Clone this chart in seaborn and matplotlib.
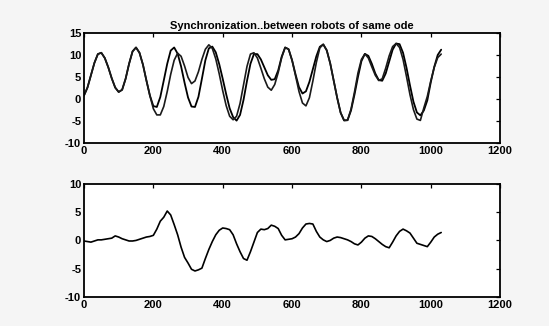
import numpy as np
import pandas as pd
import matplotlib
matplotlib.use("Agg")
import matplotlib.pyplot as plt
import seaborn as sns

# ---- data ----
x_top = list(range(0, 1040, 10))
robot_a = [0.8, 2.6, 5.4, 8.2, 10.2, 10.5, 9.3, 7.2, 4.7, 2.6,
           1.6, 2.1, 4.6, 8.0, 10.8, 11.7, 10.5, 7.8, 4.2, 0.8,
           -1.6, -1.8, 0.45, 4.2, 8.0, 11.0, 11.7, 10.3, 7.4, 3.7,
           0.35, -1.7, -1.8, 0.5, 4.6, 8.8, 11.5, 11.9, 10.6, 7.9,
           4.6, 1.1, -2.1, -4.1, -4.9, -3.6, -0.2, 4.1, 8.0, 10.2,
           10.2, 9.0, 7.2, 5.4, 4.35, 4.5, 6.5, 9.6, 11.7, 11.3,
           8.8, 5.6, 2.7, 1.25, 1.75, 3.9, 6.8, 9.7, 11.85, 12.4,
           11.05, 8.1, 4.2, 0.3, -3.1, -4.85, -4.8, -2.6, 1.0, 5.0,
           8.6, 10.25, 9.8, 8.0, 5.8, 4.3, 4.15, 5.8, 8.5, 11.2,
           12.6, 12.45, 10.5, 7.1, 3.1, -0.6, -3.05, -3.7, -2.6, -0.3,
           3.8, 7.3, 10.0, 11.2]
robot_b = [0.8, 2.6, 5.4, 8.2, 10.2, 10.5, 9.3, 7.2, 4.7, 2.6,
           1.6, 2.1, 4.6, 8.0, 10.8, 11.7, 10.5, 7.8, 4.2, 0.8,
           -2.2, -3.6, -3.6, -1.7, 1.7, 5.6, 8.8, 10.4, 9.7, 7.5,
           4.9, 3.5, 4.1, 6.2, 9.0, 11.3, 12.3, 11.5, 9.1, 5.7,
           1.9, -1.5, -3.9, -4.7, -3.9, -1.0, 3.2, 7.4, 10.2, 10.5,
           9.3, 7.0, 4.6, 2.7, 2.0, 3.3, 6.0, 9.4, 11.7, 11.3,
           8.8, 5.3, 1.7, -0.9, -1.55, 0.3, 4.1, 8.3, 11.6, 12.4,
           11.05, 8.1, 4.2, 0.3, -3.1, -4.85, -4.8, -2.3, 1.6, 5.9,
           9.0, 10.25, 9.3, 7.3, 5.4, 4.2, 4.6, 7.0, 9.8, 11.9,
           12.6, 11.7, 9.0, 5.1, 1.0, -2.4, -4.55, -4.85, -2.0, 0.6,
           4.1, 7.2, 9.4, 10.2]
diff = [-0.1, -0.2, -0.3, -0.1, 0.1, 0.1, 0.2, 0.3, 0.4, 0.8,
        0.6, 0.3, 0.1, -0.1, -0.1, 0.0, 0.2, 0.4, 0.6, 0.7,
        0.9, 2.0, 3.4, 4.1, 5.2, 4.5, 2.8, 1.0, -1.2, -3.0,
        -4.0, -5.1, -5.4, -5.2, -4.9, -3.2, -1.6, -0.2, 1.0, 1.8,
        2.2, 2.1, 1.9, 1.0, -0.6, -2.0, -3.2, -3.5, -2.0, -0.3,
        1.4, 2.0, 1.9, 2.1, 2.7, 2.5, 2.1, 0.9, 0.1, 0.2,
        0.3, 0.6, 1.2, 2.2, 2.9, 3.0, 2.9, 1.6, 0.6, 0.1,
        -0.2, 0.0, 0.4, 0.6, 0.5, 0.3, 0.1, -0.2, -0.6, -0.8,
        -0.3, 0.4, 0.8, 0.7, 0.3, -0.2, -0.7, -1.1, -1.3, -0.3,
        0.8, 1.6, 2.0, 1.7, 1.3, 0.4, -0.5, -0.7, -0.9, -1.1,
        -0.3, 0.6, 1.1, 1.4]

x_ticks = [0, 200, 400, 600, 800, 1000, 1200]
y_ticks_top = [-10, -5, 0, 5, 10, 15]
y_ticks_bot = [-10, -5, 0, 5, 10]
title = "Synchronization..between robots of same ode"

# ---- plotting ----
sns.set_style("white")
plt.rcParams["font.family"] = ["Liberation Sans", "DejaVu Sans"]
plt.rcParams["font.weight"] = "bold"
plt.rcParams["text.color"] = "black"

fig = plt.figure(figsize=(5.49, 3.26), dpi=100, facecolor="#f5f5f5")
ax1 = fig.add_axes([0.153, 0.561, 0.758, 0.338])
ax2 = fig.add_axes([0.153, 0.089, 0.758, 0.347])

df_top = pd.DataFrame({"x": x_top, "a": robot_a, "b": robot_b})
df_bot = pd.DataFrame({"x": x_top, "d": diff})

sns.lineplot(data=df_top, x="x", y="a", ax=ax1, color="black", linewidth=1.3)
sns.lineplot(data=df_top, x="x", y="b", ax=ax1, color="#1a1a1a", linewidth=1.2)
sns.lineplot(data=df_bot, x="x", y="d", ax=ax2, color="black", linewidth=1.2)

for ax, yt in ((ax1, y_ticks_top), (ax2, y_ticks_bot)):
    ax.set_facecolor("white")
    ax.set_xlim(0, 1200)
    ax.set_ylim(yt[0], yt[-1])
    ax.set_xticks(x_ticks)
    ax.set_yticks(yt)
    ax.set_xticklabels([str(v) for v in x_ticks], fontsize=8, fontweight="bold", color="black")
    ax.set_yticklabels([str(v) for v in yt], fontsize=8, fontweight="bold", color="black")
    ax.set_xlabel("")
    ax.set_ylabel("")
    ax.tick_params(direction="in", length=3, width=0.9, top=True, right=True,
                   pad=2, colors="black")
    for s in ax.spines.values():
        s.set_visible(True)
        s.set_color("black")
        s.set_linewidth(1.3)

ax1.set_title(title, fontsize=8, fontweight="bold", pad=3, color="black")

fig.savefig("out.png", dpi=100, facecolor=fig.get_facecolor())
